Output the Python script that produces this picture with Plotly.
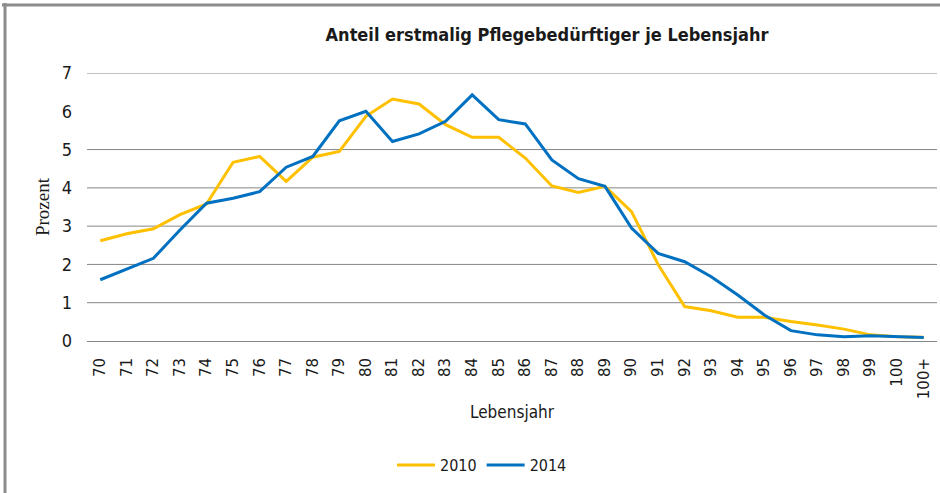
import plotly.graph_objects as go

ages = ["70", "71", "72", "73", "74", "75", "76", "77", "78", "79", "80", "81", "82", "83",
        "84", "85", "86", "87", "88", "89", "90", "91", "92", "93", "94", "95", "96", "97",
        "98", "99", "100", "100+"]
v2010 = [2.62, 2.80, 2.93, 3.30, 3.58, 4.67, 4.82, 4.17, 4.80, 4.95, 5.87, 6.32, 6.19, 5.65,
         5.32, 5.32, 4.78, 4.05, 3.88, 4.04, 3.38, 2.00, 0.90, 0.79, 0.62, 0.62, 0.51, 0.42,
         0.31, 0.16, 0.11, 0.10]
v2014 = [1.60, 1.87, 2.16, 2.90, 3.60, 3.73, 3.90, 4.54, 4.82, 5.75, 6.00, 5.21, 5.41, 5.74,
         6.43, 5.78, 5.67, 4.73, 4.24, 4.04, 2.95, 2.29, 2.07, 1.68, 1.20, 0.68, 0.27, 0.16,
         0.11, 0.14, 0.12, 0.09]
y_ticks = [0, 1, 2, 3, 4, 5, 6, 7]
grid_vals = [1, 2, 3, 4, 5, 7]

NARROW = "Liberation Sans Narrow, DejaVu Sans Condensed, Open Sans, sans-serif"

fig = go.Figure()
fig.add_trace(go.Scatter(x=ages, y=v2010, mode="lines", name="2010",
                         line=dict(color="#FFC000", width=3)))
fig.add_trace(go.Scatter(x=ages, y=v2014, mode="lines", name="2014",
                         line=dict(color="#0070C0", width=3)))

W, H = 940, 493
L, R, T, B = 87, 3, 73, 152
pw, ph = W - L - R, H - T - B

def px_x(p):
    return (p - L) / pw

def px_y(p):
    return (H - B - p) / ph

for g in grid_vals:
    fig.add_shape(type="line", xref="paper", yref="y", x0=0, x1=1, y0=g, y1=g,
                  line=dict(color="#868686", width=1), layer="below")

# outer frame (top and left edges)
fig.add_shape(type="line", xref="paper", yref="paper", x0=px_x(2), x1=px_x(940),
              y0=px_y(5), y1=px_y(5), line=dict(color="#8c8c8c", width=3))
fig.add_shape(type="line", xref="paper", yref="paper", x0=px_x(5), x1=px_x(5),
              y0=px_y(493), y1=px_y(3), line=dict(color="#8c8c8c", width=3))

fig.update_layout(
    width=W, height=H,
    margin=dict(l=L, r=R, t=T, b=B, autoexpand=False),
    paper_bgcolor="white", plot_bgcolor="white",
    title=dict(text="<b>Anteil erstmalig Pflegebedürftiger je Lebensjahr</b>",
               font=dict(family=NARROW, size=18, color="#1a1a1a"),
               x=px_x(547), xref="paper", xanchor="center",
               y=1 - 35 / H, yref="container", yanchor="middle"),
    showlegend=True,
    legend=dict(orientation="h", xref="container", yref="container",
                x=482 / W, xanchor="center",
                y=1 - 465 / H, yanchor="middle",
                font=dict(family=NARROW, size=16, color="#1a1a1a"),
                itemwidth=38, traceorder="normal"),
    xaxis=dict(type="category", range=[-0.5, len(ages) - 0.5], automargin=False,
               showgrid=False, showline=True, linecolor="#868686", linewidth=1,
               ticks="", tickangle=-90, ticklabelstandoff=10,
               tickfont=dict(family="DejaVu Sans", size=15, color="#1a1a1a"),
               title=dict(text="Lebensjahr", standoff=7,
                          font=dict(family=NARROW, size=17, color="#1a1a1a")),
               zeroline=False),
    yaxis=dict(range=[0, 7], tickvals=y_ticks, showgrid=False, showline=False,
               automargin=False, zeroline=False, ticks="", ticklabelstandoff=14,
               tickfont=dict(family=NARROW, size=18, color="#1a1a1a"),
               title=dict(text="Prozent", standoff=7,
                          font=dict(family="Liberation Serif, Times New Roman, serif",
                                    size=19, color="#1a1a1a"))),
)

fig.write_html("out.html", config={"displayModeBar": False},
               post_script="document.body.style.margin='0';")
